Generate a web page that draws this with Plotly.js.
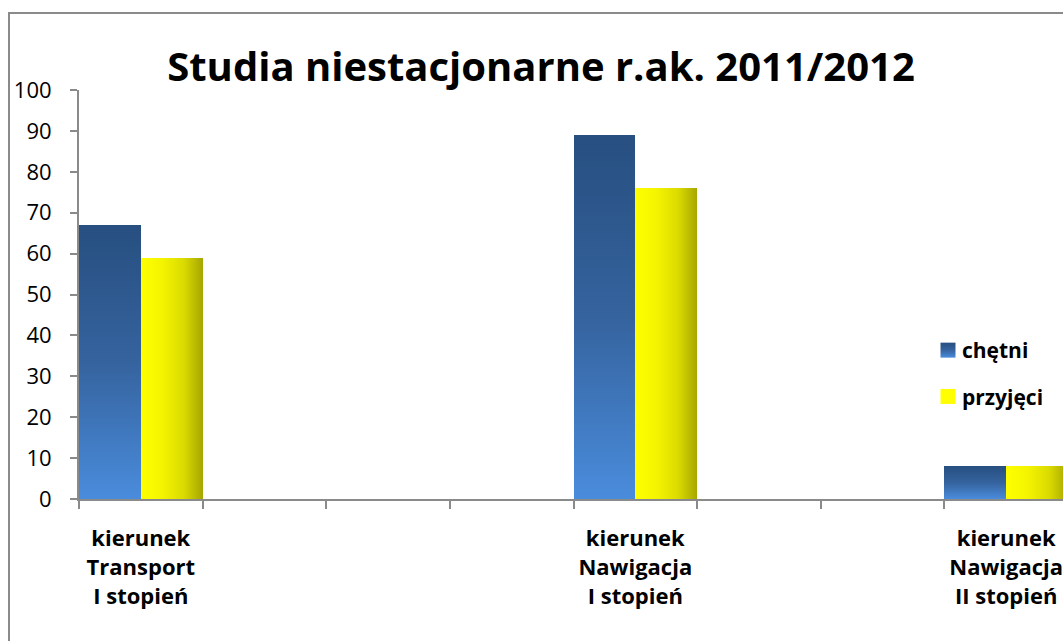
<!DOCTYPE html>
<html>
<head>
<meta charset="utf-8">
<script src="https://cdn.plot.ly/plotly-3.0.1.min.js"></script>
<style>
  html, body { margin: 0; padding: 0; overflow: hidden; background: #fff; width: 1063px; height: 641px; }
  #chart { position: absolute; left: 0; top: 0; }
  #frame { position: absolute; left: 8px; top: 12px; width: 2000px; height: 2000px; border: 2px solid #8a8a8a; pointer-events: none; }
</style>
</head>
<body>
<div id="chart"></div>
<div id="frame"></div>
<script>
// Data
const categories = [
  "kierunek<br>Transport<br>I stopień", " ", "  ", "   ",
  "kierunek<br>Nawigacja<br>I stopień", "    ", "     ",
  "kierunek<br>Nawigacja<br>II stopień"
];
const seriesNames = ["chętni", "przyjęci"];
const chetni   = [67, null, null, null, 89, null, null, 8];
const przyjeci = [59, null, null, null, 76, null, null, 8];
const yTicks = [0, 10, 20, 30, 40, 50, 60, 70, 80, 90, 100];
const titleText = "Studia niestacjonarne r.ak. 2011/2012";

const FONT = "'Open Sans', Lato, sans-serif";

const traces = [
  { type: "bar", name: seriesNames[0], x: categories, y: chetni,
    marker: { color: "#3a6aa8", line: { width: 0 } }, legendgroup: "a" },
  { type: "bar", name: seriesNames[1], x: categories, y: przyjeci,
    marker: { color: "#ffff00", line: { width: 0 } }, legendgroup: "b" }
];

const layout = {
  width: 1075, height: 641,
  margin: { l: 79, r: 7, t: 90, b: 142 },
  paper_bgcolor: "rgba(0,0,0,0)", plot_bgcolor: "rgba(0,0,0,0)",
  barmode: "group", bargap: 0, bargroupgap: 0,
  font: { family: FONT, color: "#000" },
  title: { text: titleText, font: { family: FONT, size: 40, weight: "bold", color: "#000" },
           x: (541) / 1075, xref: "container", xanchor: "center",
           y: 1 - 67 / 641, yref: "container", yanchor: "middle" },
  xaxis: {
    type: "category", categoryorder: "array", categoryarray: categories,
    range: [-0.5, 7.5], showline: true, linecolor: "#8a8a8a", linewidth: 2,
    ticks: "outside", tickson: "boundaries", ticklen: 8, tickcolor: "#8a8a8a", tickwidth: 2,
    showgrid: false, zeroline: false, tickangle: 0,
    tickfont: { family: FONT, size: 22, weight: "bold", color: "#000" },
    ticklabelstandoff: 19
  },
  yaxis: {
    range: [0, 100], tickmode: "array", tickvals: yTicks, ticktext: yTicks.map(String),
    showline: true, linecolor: "#8a8a8a", linewidth: 2,
    ticks: "outside", ticklen: 7, tickcolor: "#8a8a8a", tickwidth: 2,
    showgrid: false, zeroline: false,
    tickfont: { family: FONT, size: 22, color: "#000" },
    ticklabelstandoff: 14
  },
  showlegend: true,
  legend: {
    x: (928 - 79) / 989, xanchor: "left", y: (499 - 330) / 409, yanchor: "top",
    traceorder: "grouped", tracegroupgap: 16,
    font: { family: FONT, size: 21, weight: "bold", color: "#000" },
    bgcolor: "rgba(0,0,0,0)", itemwidth: 30
  }
};

Plotly.newPlot("chart", traces, layout, { staticPlot: true, displayModeBar: false }).then(function (gd) {
  const svg = gd.querySelector("svg.main-svg");
  const ns = "http://www.w3.org/2000/svg";
  let defs = svg.querySelector("defs");
  if (!defs) { defs = document.createElementNS(ns, "defs"); svg.insertBefore(defs, svg.firstChild); }
  function grad(id, x2, y2, stops) {
    const g = document.createElementNS(ns, "linearGradient");
    g.setAttribute("id", id);
    g.setAttribute("x1", "0"); g.setAttribute("y1", "0");
    g.setAttribute("x2", x2); g.setAttribute("y2", y2);
    stops.forEach(function (s) {
      const st = document.createElementNS(ns, "stop");
      st.setAttribute("offset", s[0]); st.setAttribute("stop-color", s[1]);
      g.appendChild(st);
    });
    defs.appendChild(g);
  }
  grad("gBlue", "0", "1", [["0", "#274f80"], ["0.5", "#35639e"], ["1", "#4a8cdc"]]);
  grad("gYellow", "1", "0", [["0", "#ffff00"], ["0.35", "#f4f400"], ["0.7", "#dada00"], ["1", "#a6a600"]]);
  const bars = gd.querySelectorAll(".barlayer .trace.bars");
  const fills = ["url(#gBlue)", "url(#gYellow)"];
  bars.forEach(function (tr, i) {
    tr.querySelectorAll("path").forEach(function (p) { p.style.fill = fills[i]; });
  });
  const legendPts = gd.querySelectorAll(".legend .traces .legendpoints path");
  legendPts.forEach(function (p, i) {
    p.setAttribute("d", "M7.5,7.5H-7.5V-7.5H7.5Z");
    p.style.fill = i === 0 ? "url(#gBlue)" : "#ffff00";
    p.style.stroke = "none";
  });
  gd.querySelectorAll(".legend .traces text.legendtext").forEach(function (t) {
    t.setAttribute("x", "34");
  });
});
</script>
</body>
</html>
